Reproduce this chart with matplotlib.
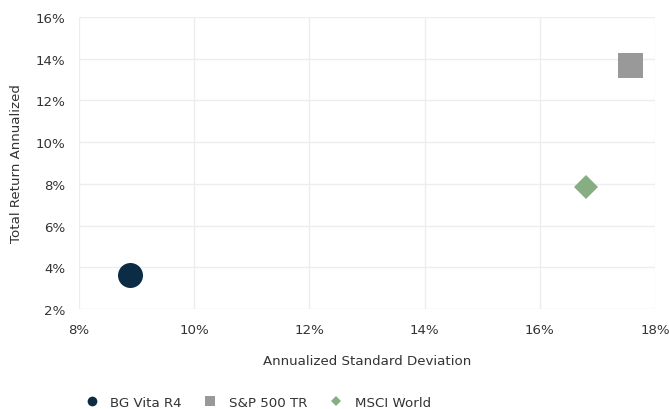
import matplotlib
matplotlib.use('Agg')
import matplotlib.pyplot as plt
from matplotlib.lines import Line2D
from matplotlib.ticker import FuncFormatter

# values (percent)
names = ['BG Vita R4', 'S&P 500 TR', 'MSCI World']
std_dev = [8.88, 17.57, 16.80]
total_return = [3.63, 13.70, 7.85]
markers = ['o', 's', 'D']
colors = ['#0b2c44', '#999999', '#87ad83']
sizes = [18, 18, 12]

x_ticks = [8, 10, 12, 14, 16, 18]
y_ticks = [2, 4, 6, 8, 10, 12, 14, 16]

plt.rcParams['font.family'] = ['DejaVu Sans']
text_color = '#333333'
fs = 9.6

fig = plt.figure(figsize=(6.69, 4.10), dpi=100)
ax = fig.add_axes([0.118, 0.244, 0.861, 0.712])

for x, y, m, c, s in zip(std_dev, total_return, markers, colors, sizes):
    ax.plot([x], [y], linestyle='none', marker=m, markersize=s,
            color=c, markeredgewidth=0, zorder=3)

ax.set_xlim(x_ticks[0], x_ticks[-1])
ax.set_ylim(y_ticks[0], y_ticks[-1])
ax.set_xticks(x_ticks)
ax.set_yticks(y_ticks)
pct = FuncFormatter(lambda v, _: f'{v:.0f}%')
ax.xaxis.set_major_formatter(pct)
ax.yaxis.set_major_formatter(pct)
ax.tick_params(length=0, labelsize=fs, labelcolor=text_color, pad=10)
ax.grid(True, color='#ededed', linewidth=1)
ax.set_axisbelow(True)
for side in ax.spines.values():
    side.set_visible(False)

ax.set_xlabel('Annualized Standard Deviation', fontsize=fs, color=text_color, labelpad=13)
ax.set_ylabel('Total Return Annualized', fontsize=fs, color=text_color, labelpad=9)

handles = [Line2D([], [], linestyle='none', marker=m, color=c, markeredgewidth=0,
                  markersize=(7 if m != 'D' else 5.5))
           for m, c in zip(markers, colors)]
fig.legend(handles, names, loc='center left', bbox_to_anchor=(0.107, 0.017),
           ncol=3, frameon=False, fontsize=fs, handlelength=1.2,
           columnspacing=1.55, handletextpad=0.8, labelcolor=text_color)

fig.savefig('out.png', dpi=100)
